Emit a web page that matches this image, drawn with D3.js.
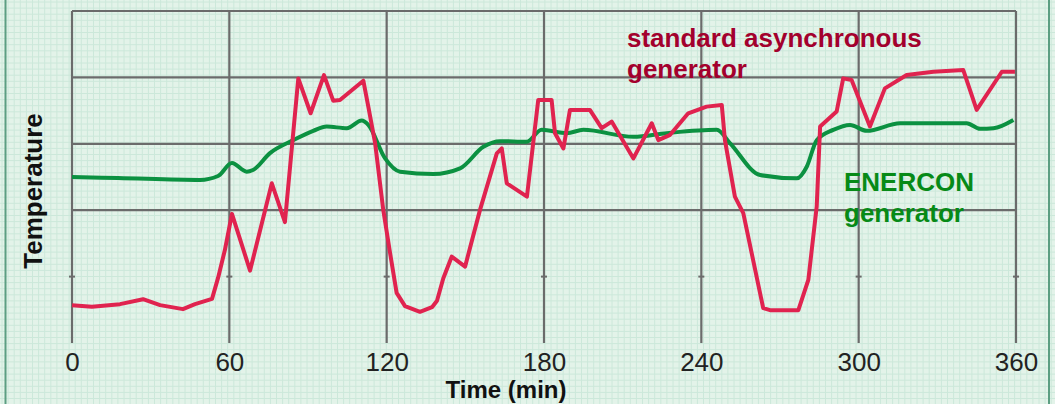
<!DOCTYPE html>
<html><head><meta charset="utf-8">
<script src="https://cdn.jsdelivr.net/npm/d3@7"></script>
<style>html,body{margin:0;padding:0;background:#e3f3e9;}svg{display:block;}</style>
</head><body>
<svg id="chart" width="1055" height="404"></svg>
<script>
// Data (time in min, temperature in relative units)
const asyncTime = [0,7.6,18.3,27.1,33.6,42.3,46.9,53.4,55.7,58.3,61.0,67.9,76.2,81.2,86.3,91.0,96.1,99.6,102.2,111.1,113.0,115.6,118.7,121.3,123.8,127.0,132.7,137.3,139.2,141.6,144.8,149.9,155.6,162.0,163.9,165.8,173.5,177.8,182.9,184.2,187.4,189.9,197.5,202.0,205.8,214.1,221.1,223.6,228.1,235.0,242.0,247.8,249.0,252.8,256.0,263.6,266.2,277.0,280.8,284.0,285.3,291.6,294.1,297.3,304.3,310.0,318.3,328.5,339.9,345.0,354.6,359.6];
const asyncTemp = [11.4,10.9,11.7,13.2,11.4,10.2,11.7,13.3,19.6,28.0,38.9,21.8,48.1,36.4,79.7,69.2,80.7,73.0,73.2,79.0,71.2,60.2,40.1,27.1,15.1,11.1,9.4,10.8,12.7,19.5,26.0,23.0,40.1,57.1,58.6,48.1,44.1,73.2,73.2,63.2,58.6,70.2,70.2,64.7,66.7,55.6,66.2,61.1,62.7,69.2,71.2,71.7,61.1,44.1,39.1,10.5,9.9,9.9,19.0,41.1,65.2,69.7,79.7,79.2,65.2,76.7,80.7,81.7,82.2,70.2,81.7,81.7];
const enerconTime = [0,17.5,48.8,55.7,61.0,66.6,69.0,75.5,84.4,92.0,97.1,104.8,110.5,113.0,119.4,125.1,137.8,148.0,156.9,163.2,173.4,179.1,188.7,195.0,214.1,226.8,245.9,250.9,262.4,276.4,280.2,284.0,290.3,296.7,303.1,315.8,341.2,346.3,351.4,359.0];
const enerconTemp = [50.0,49.7,49.1,50.3,54.2,51.6,52.1,57.2,61.1,63.9,65.2,64.7,67.0,65.7,55.6,51.6,50.9,52.6,59.1,60.8,60.6,64.2,63.2,64.2,62.1,63.2,64.2,60.2,50.6,49.6,53.1,61.1,64.2,65.7,63.9,66.2,66.2,64.5,64.7,67.2];
const xTicks = [0,60,120,180,240,300,360];
const yGrid = [40,60,80,100];
const yStubs = [20];
const labelAsync = ["standard asynchronous","generator"];
const labelEnercon = ["ENERCON","generator"];

const svg = d3.select("#chart");
const W = 1055, H = 404;

// graph-paper background
const bg = svg.append("g");
bg.append("rect").attr("width",W).attr("height",H).attr("fill","#e3f3e9");
const step = 6.1;
const gx = d3.range(2, W, step), gy = d3.range(2, H, step);
bg.selectAll("line.vx").data(gx).enter().append("line")
  .attr("x1",d=>d).attr("x2",d=>d).attr("y1",0).attr("y2",H)
  .attr("stroke","#cce8da").attr("stroke-width",1);
bg.selectAll("line.hy").data(gy).enter().append("line")
  .attr("y1",d=>d).attr("y2",d=>d).attr("x1",0).attr("x2",W)
  .attr("stroke","#cce8da").attr("stroke-width",1);
// frame lines
bg.append("line").attr("x1",5.5).attr("x2",5.5).attr("y1",0).attr("y2",H).attr("stroke","#5c9e82").attr("stroke-width",2);
bg.append("line").attr("x1",1049).attr("x2",1049).attr("y1",0).attr("y2",H).attr("stroke","#5c9e82").attr("stroke-width",2);

const x = d3.scaleLinear().domain([0,360]).range([72,1016]);
const y = d3.scaleLinear().domain([0,100]).range([343,11]);

const grid = svg.append("g");
const gridColor = "#6b6b6b";
grid.selectAll("line.v").data(xTicks).enter().append("line")
  .attr("x1",d=>x(d)).attr("x2",d=>x(d)).attr("y1",y(100)).attr("y2",y(0))
  .attr("stroke",gridColor).attr("stroke-width",2.2);
grid.selectAll("line.h").data(yGrid).enter().append("line")
  .attr("x1",x(0)).attr("x2",x(360)).attr("y1",d=>y(d)).attr("y2",d=>y(d))
  .attr("stroke",gridColor).attr("stroke-width",2.2);
// small stub marks
yStubs.forEach(v=>{
  grid.selectAll(null).data(xTicks).enter().append("line")
    .attr("x1",d=>x(d)-3).attr("x2",d=>x(d)+3).attr("y1",y(v)).attr("y2",y(v))
    .attr("stroke",gridColor).attr("stroke-width",2);
});

// x axis labels
const xAxis = d3.axisBottom(x).tickValues(xTicks).tickSize(0).tickPadding(0);
const ax = svg.append("g").attr("transform","translate(0,351)").call(xAxis);
ax.select(".domain").remove();
ax.selectAll("text").attr("font-family","Liberation Sans, Arial, sans-serif")
  .attr("font-size",26).attr("fill","#222").attr("dy","0.75em");

svg.append("text").attr("x",506).attr("y",398).attr("text-anchor","middle")
  .attr("font-family","Liberation Sans, Arial, sans-serif").attr("font-weight","bold")
  .attr("font-size",24).attr("fill","#111").text("Time (min)");
svg.append("text").attr("transform","translate(42,191) rotate(-90)").attr("text-anchor","middle")
  .attr("font-family","Liberation Sans, Arial, sans-serif").attr("font-weight","bold")
  .attr("font-size",26).attr("fill","#111").text("Temperature");

// lines
const lineLin = d3.line().x(d=>x(d[0])).y(d=>y(d[1])).curve(d3.curveLinear);
const lineSmooth = d3.line().x(d=>x(d[0])).y(d=>y(d[1])).curve(d3.curveMonotoneX);
const enerconData = enerconTime.map((t,i)=>[t,enerconTemp[i]]);
const asyncData = asyncTime.map((t,i)=>[t,asyncTemp[i]]);
svg.append("path").datum(enerconData).attr("d",lineSmooth).attr("fill","none")
  .attr("stroke","#0b9141").attr("stroke-width",4).attr("stroke-linejoin","round");
svg.append("path").datum(asyncData).attr("d",lineLin).attr("fill","none")
  .attr("stroke","#e0234f").attr("stroke-width",4).attr("stroke-linejoin","round");

// labels
const la = svg.append("text").attr("font-family","Liberation Sans, Arial, sans-serif")
  .attr("font-weight","bold").attr("font-size",26).attr("fill","#a3002d");
labelAsync.forEach((s,i)=>la.append("tspan").attr("x",627).attr("y",47+i*31).text(s));
const le = svg.append("text").attr("font-family","Liberation Sans, Arial, sans-serif")
  .attr("font-weight","bold").attr("font-size",26).attr("fill","#078a17");
labelEnercon.forEach((s,i)=>le.append("tspan").attr("x",844).attr("y",191+i*31).text(s));
</script>
</body></html>
